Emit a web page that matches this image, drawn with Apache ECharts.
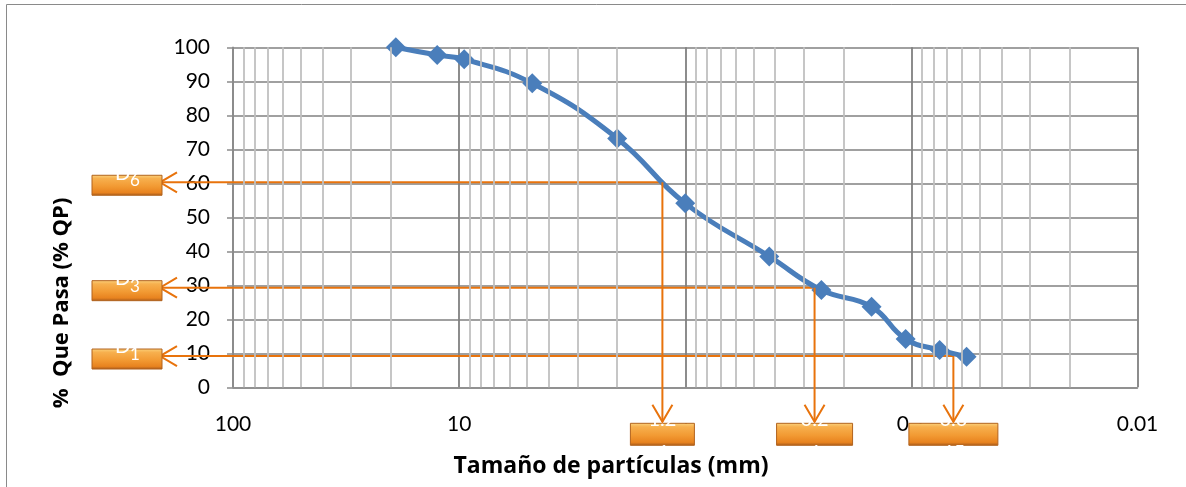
<!DOCTYPE html>
<html><head><meta charset="utf-8">
<script src="https://cdn.jsdelivr.net/npm/echarts@6/dist/echarts.min.js"></script>
<style>html,body{margin:0;padding:0;background:#fff}#c{width:1186px;height:487px}</style>
</head><body><div id="c"></div>
<script>
// ---- data ----
const sieveSizes = [19.05, 12.5, 9.5, 4.75, 2.0, 1.0, 0.425, 0.25, 0.15, 0.106, 0.075, 0.057];
const percentPassing = [100, 97.7, 96.5, 89.4, 73.2, 54.1, 38.5, 28.6, 23.7, 14.2, 11.0, 9.0];
const xTickLabels = ['100', '10', '1', '0.1', '0.01'];
const yTickValues = [0, 100, 10]; // min, max, step
const dSubscripts = ['6', '3', '1'];
const dPercent = [60.3, 29.3, 9.2];
const dDiameter = [1.262, 0.268, 0.0652];
const dValueLines = [['1.2', '6'], ['0.2', '6'], ['0.0', '65']];
const xTitle = 'Tamaño de partículas (mm)';
const yTitle = '%  Que Pasa (% QP)';

// ---- style ----
const FONT = 'Lato, "Open Sans", sans-serif';
const TFONT = '"Open Sans", Lato, sans-serif';
const BLUE = '#4A7EBB';
const ORANGE = '#E8730C';

const minorValues = [];
[10, 1, 0.1, 0.01].forEach(d => { for (let k = 2; k <= 9; k++) minorValues.push(+(k * d).toPrecision(3)); });

const chart = echarts.init(document.getElementById('c'), null, {renderer: 'canvas'});
const points = sieveSizes.map((x, i) => [x, percentPassing[i]]);

chart.setOption({
  animation: false,
  backgroundColor: '#fff',
  grid: {left: 233, right: 48.5, top: 47.3, bottom: 99.7, containLabel: false},
  xAxis: {
    type: 'log', logBase: 10, min: 0.01, max: 100, inverse: true,
    axisLine: {show: true, lineStyle: {color: '#8c8c8c', width: 1.5}},
    axisTick: {show: false},
    axisLabel: {
      fontSize: 21, color: '#000', fontFamily: FONT, margin: 26,
      formatter: v => xTickLabels[2 - Math.round(Math.log10(v))]
    },
    splitLine: {show: true, lineStyle: {color: '#808080', width: 1.8}}
  },
  yAxis: {
    type: 'value', min: yTickValues[0], max: yTickValues[1], interval: yTickValues[2],
    axisLine: {show: true, lineStyle: {color: '#8c8c8c', width: 1.5}},
    axisTick: {show: true, length: 6, lineStyle: {color: '#8c8c8c', width: 1.5}},
    axisLabel: {fontSize: 21, color: '#000', fontFamily: FONT, margin: 23},
    splitLine: {show: true, lineStyle: {color: '#a0a0a0', width: 1.8}}
  },
  series: [
    {
      type: 'line', data: points, z: 1, silent: true,
      showSymbol: false, lineStyle: {opacity: 0},
      markLine: {
        silent: true, symbol: 'none', label: {show: false}, animation: false,
        lineStyle: {color: '#c0c0c0', width: 1.8, type: 'solid'},
        data: minorValues.map(v => ({xAxis: v}))
      }
    },
    {
      type: 'line', data: points, z: 3, smooth: 0.45,
      symbol: 'diamond', symbolSize: 20,
      lineStyle: {color: BLUE, width: 5},
      itemStyle: {color: BLUE}
    }
  ]
});

// ---- annotations (positions computed through the chart's scales) ----
const g = [];
const px = (x, y) => chart.convertToPixel({gridIndex: 0}, [x, y]);
const gridLeft = 233;
const bottomY = px(1, 0)[1];
const boxGrad = () => new echarts.graphic.LinearGradient(0, 0, 0, 1, [
  {offset: 0, color: '#FBD480'}, {offset: 0.18, color: '#F7B04E'},
  {offset: 0.55, color: '#F29A33'}, {offset: 0.85, color: '#E8831F'}, {offset: 1, color: '#A4581B'}
]);
const bottomWidths = [64, 76, 89];

dPercent.forEach((p, i) => {
  const [xv, yv] = px(dDiameter[i], p);
  const tipX = gridLeft - 73;
  const tipY = bottomY + 34.5;
  g.push({type: 'polyline', z: 1, shape: {points: [[tipX, yv], [xv, yv]]},
    style: {stroke: ORANGE, lineWidth: 2, fill: null}});
  g.push({type: 'polyline', z: 12, shape: {points: [[xv, yv], [xv, tipY]]},
    style: {stroke: ORANGE, lineWidth: 2, fill: null}});
  g.push({type: 'polyline', z: 1, shape: {points: [[tipX + 17, yv - 10], [tipX, yv], [tipX + 17, yv + 10]]},
    style: {stroke: ORANGE, lineWidth: 2, fill: null}});
  g.push({type: 'polyline', z: 12, shape: {points: [[xv - 10, tipY - 17], [xv, tipY], [xv + 10, tipY - 17]]},
    style: {stroke: ORANGE, lineWidth: 2, fill: null}});
  const bx = tipX - 68, by = yv - 7;
  g.push({type: 'rect', z: 10, shape: {x: bx, y: by, width: 70, height: 20},
    style: {fill: boxGrad(), stroke: '#B2631D', lineWidth: 1}});
  g.push({type: 'text', z: 11, x: bx + 23, y: by + 8,
    style: {text: 'D', font: '20px ' + FONT, fill: '#fff', align: 'left', verticalAlign: 'bottom'}});
  g.push({type: 'text', z: 11, x: bx + 38, y: by + 14,
    style: {text: dSubscripts[i], font: '17px ' + FONT, fill: '#fff', align: 'left', verticalAlign: 'bottom'}});
  const w = bottomWidths[i];
  const bbx = xv - w / 2, bby = tipY + 1.5;
  g.push({type: 'rect', z: 9, shape: {x: bbx, y: bby - 16, width: w, height: 16},
    style: {fill: '#fff'}});
  g.push({type: 'rect', z: 10, shape: {x: bbx, y: bby, width: w, height: 22},
    style: {fill: boxGrad(), stroke: '#B2631D', lineWidth: 1}});
  g.push({type: 'text', z: 11, x: xv, y: bby + 6,
    style: {text: dValueLines[i][0], font: '20px ' + FONT, fill: '#fff', align: 'center', verticalAlign: 'bottom'}});
  g.push({type: 'text', z: 11, x: xv, y: bby + 19,
    style: {text: dValueLines[i][1], font: '20px ' + FONT, fill: '#fff', align: 'center', verticalAlign: 'top'}});
});

g.push({type: 'text', z: 5, x: 611, y: 466,
  style: {text: xTitle, font: 'bold 23px ' + TFONT, fill: '#000', align: 'center', verticalAlign: 'middle'}});
g.push({type: 'text', z: 5, x: 62, y: 303, rotation: Math.PI / 2,
  style: {text: yTitle, font: 'bold 22px ' + TFONT, fill: '#000', align: 'center', verticalAlign: 'middle'}});
g.push({type: 'rect', z: 0, shape: {x: 6.5, y: 4.5, width: 1300, height: 600},
  style: {fill: null, stroke: '#8a8a8a', lineWidth: 1}});

chart.setOption({graphic: g});
</script>
</body></html>
